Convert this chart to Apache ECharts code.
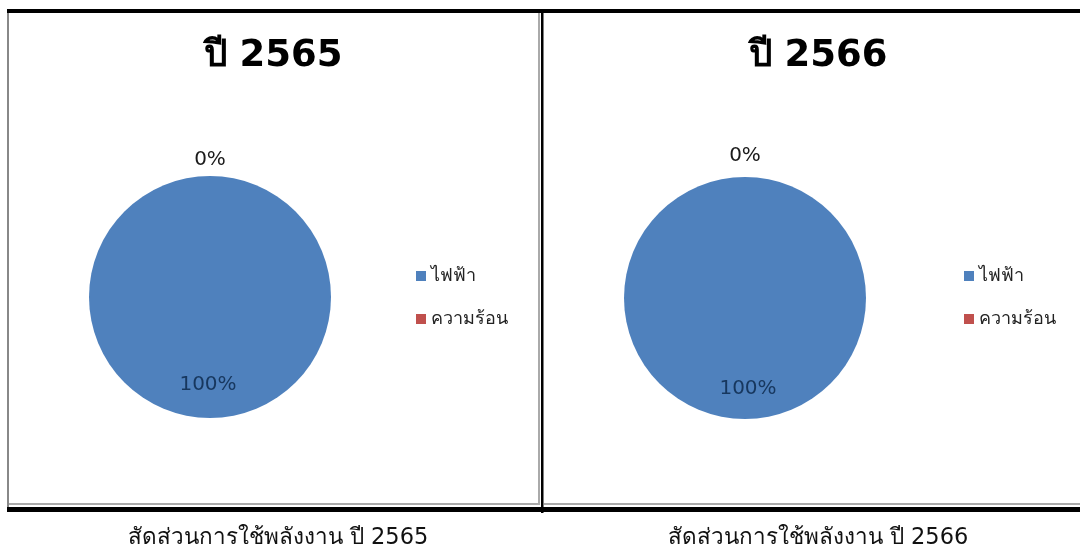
<!DOCTYPE html>
<html>
<head>
<meta charset="utf-8">
<script src="https://cdn.jsdelivr.net/npm/echarts@6/dist/echarts.min.js"></script>
<style>
html,body{margin:0;padding:0;background:#fff;}
#c{width:1080px;height:550px;}
</style>
</head>
<body>
<div id="c"></div>
<script>
// Data
const categories = ['ไฟฟ้า', 'ความร้อน'];
const values2565 = [100, 0];
const values2566 = [100, 0];
const titles = ['ปี 2565', 'ปี 2566'];
const captions = ['สัดส่วนการใช้พลังงาน ปี 2565', 'สัดส่วนการใช้พลังงาน ปี 2566'];
const colors = ['#4F81BD', '#C0504D'];

const FONT = '"DejaVu Sans", "Noto Sans", sans-serif';
const R = 121;

function pieSeries(vals, center, outerGap, innerOffset, innerDx) {
  return {
    type: 'pie',
    radius: R,
    center: center,
    startAngle: 90,
    clockwise: true,
    animation: false,
    data: categories.map((n, i) => ({ name: n, value: vals[i] })),
    itemStyle: { borderWidth: 0 },
    label: {
      show: true,
      position: 'outside',
      formatter: '{d}%',
      fontFamily: FONT,
      fontSize: 20,
      color: '#1a1a1a'
    },
    labelLine: { show: false, length: outerGap, length2: 0 },
    labelLayout: function (p) {
      if (p.dataIndex === 0) {
        return { dx: innerDx, dy: -(R + outerGap - innerOffset), align: 'center', verticalAlign: 'middle' };
      }
      return { dx: -5, align: 'center', verticalAlign: 'middle' };
    }
  };
}

const chart = echarts.init(document.getElementById('c'));
const s1 = pieSeries(values2565, [210, 297], 16, 88, 3);
const s2 = pieSeries(values2566, [745, 298], 21, 91, 8);
s1.data[0].label = { color: '#17375E' };
s2.data[0].label = { color: '#17375E' };

const legendStyle = { fontFamily: FONT, fontSize: 18, color: '#222' };

chart.setOption({
  backgroundColor: '#ffffff',
  color: colors,
  animation: false,
  title: [
    { text: titles[0], left: 268, top: 33, textAlign: 'center',
      textStyle: { fontFamily: FONT, fontSize: 37, fontWeight: 'bold', color: '#000' } },
    { text: titles[1], left: 813, top: 33, textAlign: 'center',
      textStyle: { fontFamily: FONT, fontSize: 37, fontWeight: 'bold', color: '#000' } },
    { text: captions[0], left: 273, top: 522, textAlign: 'center',
      textStyle: { fontFamily: FONT, fontSize: 22.5, fontWeight: 'normal', color: '#111' } },
    { text: captions[1], left: 813, top: 522, textAlign: 'center',
      textStyle: { fontFamily: FONT, fontSize: 22.5, fontWeight: 'normal', color: '#111' } }
  ],
  legend: [
    { data: categories, orient: 'vertical', left: 411, top: 262,
      itemWidth: 10, itemHeight: 10, itemGap: 25, icon: 'rect',
      textStyle: legendStyle },
    { data: categories, orient: 'vertical', left: 959, top: 262,
      itemWidth: 10, itemHeight: 10, itemGap: 25, icon: 'rect',
      textStyle: legendStyle }
  ],
  graphic: [
    { type: 'rect', shape: { x: 7, y: 12, width: 2, height: 497 }, style: { fill: '#888' }, silent: true },
    { type: 'rect', shape: { x: 538, y: 12, width: 2, height: 493 }, style: { fill: '#aaa' }, silent: true },
    { type: 'rect', shape: { x: 9, y: 503, width: 531, height: 2 }, style: { fill: '#aaa' }, silent: true },
    { type: 'rect', shape: { x: 544, y: 503, width: 536, height: 2 }, style: { fill: '#aaa' }, silent: true },
    { type: 'rect', shape: { x: 7, y: 9, width: 1073, height: 4 }, style: { fill: '#000' }, silent: true },
    { type: 'rect', shape: { x: 7, y: 507, width: 1073, height: 5 }, style: { fill: '#000' }, silent: true },
    { type: 'rect', shape: { x: 541, y: 12, width: 2.5, height: 501 }, style: { fill: '#000' }, silent: true }
  ],
  series: [s1, s2]
});
</script>
</body>
</html>
